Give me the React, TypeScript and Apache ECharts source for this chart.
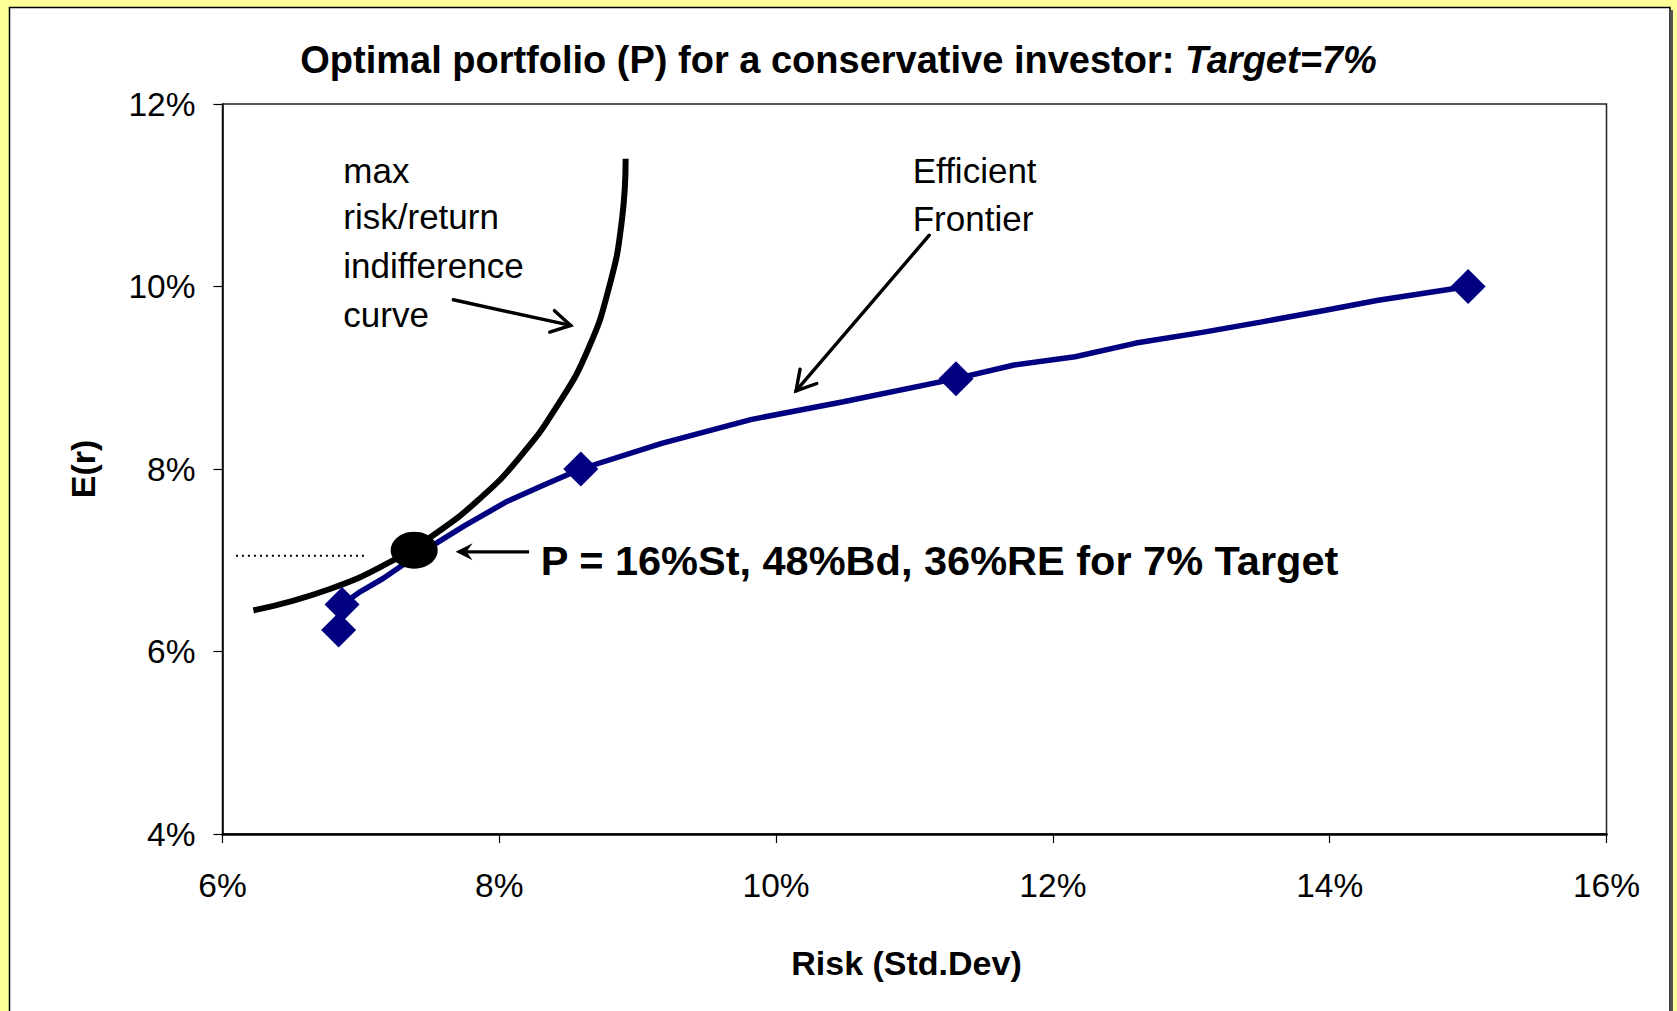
import React, { useEffect, useRef } from "react";
import * as echarts from "echarts";

const FONT = "'Liberation Sans', Arial, Helvetica, sans-serif";

// Efficient frontier (risk %, expected return %)
const frontierRisk = [6.864, 7.0, 7.16, 7.4, 7.75, 8.05, 8.33, 8.589, 9.173, 9.824, 10.486, 11.3, 11.72, 12.16, 12.6, 13.09, 13.5, 13.97, 14.35, 15.0];
const frontierReturn = [6.515, 6.66, 6.8, 7.05, 7.38, 7.64, 7.83, 8.0, 8.281, 8.544, 8.737, 8.99, 9.14, 9.23, 9.38, 9.5, 9.61, 9.74, 9.85, 10.0];

// Marked portfolios (diamonds)
const portfolioRisk = [6.839, 6.864, 8.589, 11.3, 15.0];
const portfolioReturn = [6.235, 6.515, 8.0, 8.99, 10.0];

// Max risk/return indifference curve
const indiffRisk = [6.223, 6.776, 7.232, 7.52, 7.85, 8.15, 8.43, 8.64, 8.79, 8.885, 8.913];
const indiffReturn = [6.45, 6.685, 6.998, 7.272, 7.663, 8.133, 8.72, 9.307, 9.973, 10.716, 11.401];

// Optimal portfolio P
const optimalRisk = [7.385];
const optimalReturn = [7.11];

// Target level dotted line
const targetRisk = [6.097, 7.044];
const targetReturn = [7.05, 7.05];

// Axis ticks
const xTicks = [6, 8, 10, 12, 14, 16];
const yTicks = [4, 6, 8, 10, 12];

// Annotation texts
const annoTexts = ["max", "risk/return", "indifference", "curve", "Efficient", "Frontier"];
const pText = "P = 16%St, 48%Bd, 36%RE for 7% Target";

const zip = (a: number[], b: number[]) => a.map((v, i) => [v, b[i]]);

export default function App() {
  const ref = useRef<HTMLDivElement>(null);

  useEffect(() => {
    document.body.style.margin = "0";
    if (!ref.current) return;
    const chart = echarts.init(ref.current, null, { renderer: "svg" });

    // annotation anchors in data coordinates
    const annoAnchors = [
      [6.873, 11.27],
      [6.873, 10.762],
      [6.873, 10.235],
      [6.873, 9.694],
      [10.987, 11.272],
      [10.987, 10.75],
    ];
    const pTextAnchor = [8.299, 6.994];
    // arrows: x1, y1, x2, y2, kind (0 open, 1 filled)
    const arrows = [
      [7.668, 9.855, 8.516, 9.573, 0],
      [11.107, 10.562, 10.144, 8.857, 0],
      [8.215, 7.092, 7.684, 7.092, 1],
    ];

    const option: any = {
      animation: false,
      backgroundColor: "#FFFF99",
      graphic: [
        {
          type: "rect",
          z: -100,
          silent: true,
          shape: { x: 9.5, y: 7.5, width: 1660.5, height: 1100 },
          style: { fill: "#ffffff", stroke: "#000000", lineWidth: 1.5 },
        },
        {
          type: "rect",
          z: -100,
          silent: true,
          shape: { x: 1670.5, y: 10, width: 2.5, height: 1001 },
          style: { fill: "#555555" },
        },
      ],
      title: {
        text: "{a|Optimal portfolio (P) for a conservative investor: }{b|Target=7%}",
        left: "center",
        top: 36,
        textStyle: {
          rich: {
            a: { fontSize: 38, fontWeight: "bold", fontFamily: FONT, color: "#000" },
            b: { fontSize: 38, fontWeight: "bold", fontStyle: "italic", fontFamily: FONT, color: "#000" },
          },
        },
      },
      grid: {
        left: 222.5,
        right: 70.5,
        top: 104,
        bottom: 177,
        show: true,
        backgroundColor: "#ffffff",
        borderColor: "#222222",
        borderWidth: 1.5,
      },
      xAxis: {
        type: "value",
        min: xTicks[0],
        max: xTicks[xTicks.length - 1],
        interval: 2,
        name: "Risk (Std.Dev)",
        nameLocation: "middle",
        nameGap: 112,
        nameTextStyle: { fontSize: 34, fontWeight: "bold", fontFamily: FONT, color: "#000", padding: [0, 16, 0, 0] },
        axisLine: { lineStyle: { color: "#000", width: 2.5 } },
        axisTick: { length: 9, lineStyle: { color: "#000", width: 1.2 } },
        axisLabel: { formatter: "{value}%", fontSize: 33.5, fontFamily: FONT, color: "#000", margin: 34 },
        splitLine: { show: false },
      },
      yAxis: {
        type: "value",
        min: yTicks[0],
        max: yTicks[yTicks.length - 1],
        interval: 2,
        name: "E(r)",
        nameLocation: "middle",
        nameGap: 123,
        nameTextStyle: { fontSize: 34, fontWeight: "bold", fontFamily: FONT, color: "#000" },
        axisLine: { lineStyle: { color: "#000", width: 1.5 } },
        axisTick: { length: 9, lineStyle: { color: "#000", width: 1.2 } },
        axisLabel: { formatter: "{value}%", fontSize: 33.5, fontFamily: FONT, color: "#000", margin: 27 },
        splitLine: { show: false },
      },
      series: [
        {
          type: "line",
          data: zip(targetRisk, targetReturn),
          symbol: "none",
          lineStyle: { color: "#000", width: 2, type: [2, 4] },
          z: 2,
        },
        {
          type: "line",
          data: zip(frontierRisk, frontierReturn),
          symbol: "none",
          lineStyle: { color: "#000080", width: 5.5 },
          z: 3,
        },
        {
          type: "line",
          data: zip(indiffRisk, indiffReturn),
          symbol: "none",
          smooth: 0.5,
          lineStyle: { color: "#000", width: 6 },
          z: 4,
        },
        {
          type: "scatter",
          data: zip(portfolioRisk, portfolioReturn),
          symbol: "diamond",
          symbolSize: [35, 35],
          itemStyle: { color: "#000080", opacity: 1 },
          z: 5,
        },
        {
          type: "scatter",
          data: zip(optimalRisk, optimalReturn),
          symbol: "circle",
          symbolSize: [47, 37],
          itemStyle: { color: "#000", opacity: 1 },
          z: 6,
        },
        {
          type: "custom",
          silent: true,
          clip: false,
          z: 7,
          encode: { x: [0, 2], y: [1, 3] },
          data: arrows,
          renderItem: (params: any, api: any) => {
            const p1 = api.coord([api.value(0), api.value(1)]);
            const p2 = api.coord([api.value(2), api.value(3)]);
            const kind = api.value(4);
            const dx = p2[0] - p1[0];
            const dy = p2[1] - p1[1];
            const len = Math.sqrt(dx * dx + dy * dy);
            const ux = dx / len;
            const uy = dy / len;
            const nx = -uy;
            const ny = ux;
            const children: any[] = [];
            if (kind === 0) {
              const L = 22;
              const c = Math.cos(Math.PI / 6);
              const s = Math.sin(Math.PI / 6);
              const a1 = [p2[0] - L * (ux * c - nx * s), p2[1] - L * (uy * c - ny * s)];
              const a2 = [p2[0] - L * (ux * c + nx * s), p2[1] - L * (uy * c + ny * s)];
              children.push({
                type: "line",
                shape: { x1: p1[0], y1: p1[1], x2: p2[0], y2: p2[1] },
                style: { stroke: "#000", lineWidth: 3.4, lineCap: "round" },
              });
              children.push({
                type: "polyline",
                shape: { points: [a1, p2, a2] },
                style: { stroke: "#000", fill: "none", lineWidth: 3.4, lineCap: "round", lineJoin: "miter" },
              });
            } else {
              const back = [p2[0] - 11 * ux, p2[1] - 11 * uy];
              children.push({
                type: "line",
                shape: { x1: p1[0], y1: p1[1], x2: back[0], y2: back[1] },
                style: { stroke: "#000", lineWidth: 3.4 },
              });
              children.push({
                type: "polygon",
                shape: {
                  points: [
                    p2,
                    [p2[0] - 17 * ux + 8.5 * nx, p2[1] - 17 * uy + 8.5 * ny],
                    back,
                    [p2[0] - 17 * ux - 8.5 * nx, p2[1] - 17 * uy - 8.5 * ny],
                  ],
                },
                style: { fill: "#000" },
              });
            }
            return { type: "group", children };
          },
        },
        {
          type: "custom",
          silent: true,
          clip: false,
          z: 8,
          data: [...annoAnchors, pTextAnchor],
          renderItem: (params: any, api: any) => {
            const i = params.dataIndex;
            const p = api.coord([api.value(0), api.value(1)]);
            const isP = i === annoAnchors.length;
            return {
              type: "text",
              x: p[0],
              y: p[1],
              style: {
                text: isP ? pText : annoTexts[i],
                fill: "#000",
                fontSize: isP ? 41.5 : 35,
                fontWeight: isP ? "bold" : "normal",
                fontFamily: FONT,
                align: "left",
                verticalAlign: "middle",
              },
            };
          },
        },
      ],
    };

    chart.setOption(option);
    return () => chart.dispose();
  }, []);

  return <div ref={ref} style={{ width: 1677, height: 1011 }} />;
}
